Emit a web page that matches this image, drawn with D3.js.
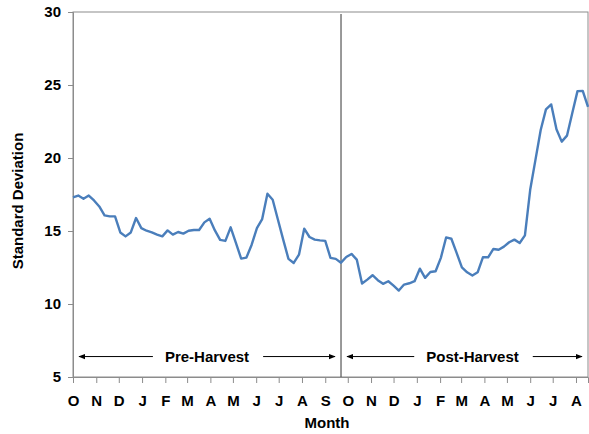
<!DOCTYPE html>
<html>
<head>
<meta charset="utf-8">
<script src="https://cdn.jsdelivr.net/npm/d3@7"></script>
<style>
  body { margin: 0; background: #fff; }
  text { font-family: "Liberation Sans", Arial, sans-serif; font-weight: bold; }
</style>
</head>
<body>
<svg width="589" height="434"></svg>
<script>
// weekly standard deviation, starting first week of October
const startDate = new Date(2007, 9, 1);
const sdValues = [
  17.30, 17.43, 17.21, 17.43, 17.09, 16.68, 16.07, 16.00, 16.00, 14.90,
  14.63, 14.90, 15.89, 15.20, 15.02, 14.90, 14.75, 14.63, 15.04, 14.75,
  14.93, 14.82, 15.02, 15.07, 15.07, 15.59, 15.84, 15.04, 14.39, 14.32,
  15.25, 14.18, 13.11, 13.18, 14.06, 15.20, 15.82, 17.55, 17.14, 15.77,
  14.41, 13.09, 12.81, 13.38, 15.16, 14.59, 14.41, 14.36, 14.32, 13.16,
  13.09, 12.83, 13.22, 13.43, 13.04, 11.40, 11.67, 11.97, 11.63, 11.38,
  11.56, 11.26, 10.92, 11.33, 11.42, 11.56, 12.42, 11.79, 12.19, 12.24,
  13.16, 14.56, 14.47, 13.50, 12.51, 12.17, 11.95, 12.17, 13.20, 13.20,
  13.77, 13.72, 13.93, 14.23, 14.41, 14.18, 14.70, 17.82, 19.87, 21.92,
  23.33, 23.67, 21.97, 21.12, 21.53, 23.06, 24.58, 24.60, 23.51
];
const harvestWeek = 51;   // week where harvest splits the series
const yTicks = [5, 10, 15, 20, 25, 30];
const periods = [
  { name: "Pre-Harvest", from: 0, to: 51, shift: 0 },
  { name: "Post-Harvest", from: 51, to: 98, shift: 8 }
];

const weekDate = i => d3.timeDay.offset(startDate, i * 7);
const series = sdValues.map((v, i) => ({ date: weekDate(i), value: v }));

const svg = d3.select("svg");
const margin = { top: 12, right: 1, bottom: 57, left: 73 };
const width = 589, height = 434;

const x = d3.scaleTime()
  .domain([startDate, weekDate(sdValues.length - 1)])
  .range([margin.left, width - margin.right]);

const y = d3.scaleLinear()
  .domain([5, 30])
  .range([height - margin.bottom, margin.top]);

// plot frame
svg.append("rect")
  .attr("x", margin.left).attr("y", margin.top)
  .attr("width", x.range()[1] - margin.left)
  .attr("height", y(5) - y(30))
  .attr("fill", "none")
  .attr("stroke", "#8c8c8c")
  .attr("stroke-width", 1);

// y axis
svg.append("g")
  .attr("transform", `translate(${margin.left},0)`)
  .call(d3.axisLeft(y).tickValues(yTicks).tickSize(5).tickPadding(7))
  .call(g => g.select(".domain").attr("stroke", "#8c8c8c"))
  .call(g => g.selectAll(".tick line").attr("stroke", "#8c8c8c"))
  .call(g => g.selectAll("text").attr("font-size", "15px").attr("fill", "#000"));

// x axis, ticks on the first of each month
const monthTicks = d3.timeMonth.range(startDate, x.domain()[1]);
svg.append("g")
  .attr("transform", `translate(0,${y(5)})`)
  .call(d3.axisBottom(x).tickValues(monthTicks).tickSize(6).tickPadding(12)
    .tickFormat(d => d3.timeFormat("%B")(d)[0]))
  .call(g => g.select(".domain").attr("stroke", "#8c8c8c"))
  .call(g => g.selectAll(".tick line").attr("stroke", "#8c8c8c"))
  .call(g => g.selectAll("text").attr("font-size", "15px").attr("fill", "#000"));

// harvest divider
svg.append("line")
  .attr("x1", x(weekDate(harvestWeek))).attr("x2", x(weekDate(harvestWeek)))
  .attr("y1", y(30) + 2).attr("y2", y(5))
  .attr("stroke", "#555")
  .attr("stroke-width", 1.2);

// the series
svg.append("path")
  .datum(series)
  .attr("fill", "none")
  .attr("stroke", "#4a7ebb")
  .attr("stroke-width", 2.4)
  .attr("stroke-linejoin", "round")
  .attr("d", d3.line().x(d => x(d.date)).y(d => y(d.value)));

// period annotations with arrows
const defs = svg.append("defs");
defs.append("marker")
  .attr("id", "arrow")
  .attr("viewBox", "0 0 10 10")
  .attr("refX", 9).attr("refY", 5)
  .attr("markerWidth", 7).attr("markerHeight", 7)
  .attr("orient", "auto-start-reverse")
  .append("path")
  .attr("d", "M0,1 L10,5 L0,9 z")
  .attr("fill", "#000");

const annY = y(6.4);
periods.forEach(p => {
  const x0 = x(weekDate(p.from)) + 4;
  const x1 = x(weekDate(p.to)) - 4;
  const cx = (x0 + x1) / 2 + p.shift;
  const t = svg.append("text")
    .attr("x", cx).attr("y", annY + 5)
    .attr("text-anchor", "middle")
    .attr("font-size", "15px")
    .text(p.name);
  const half = t.node().getComputedTextLength() / 2;
  svg.append("line")
    .attr("x1", cx - half - 12).attr("x2", x0 + 2)
    .attr("y1", annY).attr("y2", annY)
    .attr("stroke", "#000").attr("stroke-width", 1)
    .attr("marker-end", "url(#arrow)");
  svg.append("line")
    .attr("x1", cx + half + 14).attr("x2", x1 - 2)
    .attr("y1", annY).attr("y2", annY)
    .attr("stroke", "#000").attr("stroke-width", 1)
    .attr("marker-end", "url(#arrow)");
});

// axis titles
svg.append("text")
  .attr("x", 327).attr("y", 428)
  .attr("text-anchor", "middle")
  .attr("font-size", "15px")
  .text("Month");

svg.append("text")
  .attr("transform", `translate(23,201) rotate(-90)`)
  .attr("text-anchor", "middle")
  .attr("font-size", "15px")
  .text("Standard Deviation");
</script>
</body>
</html>
